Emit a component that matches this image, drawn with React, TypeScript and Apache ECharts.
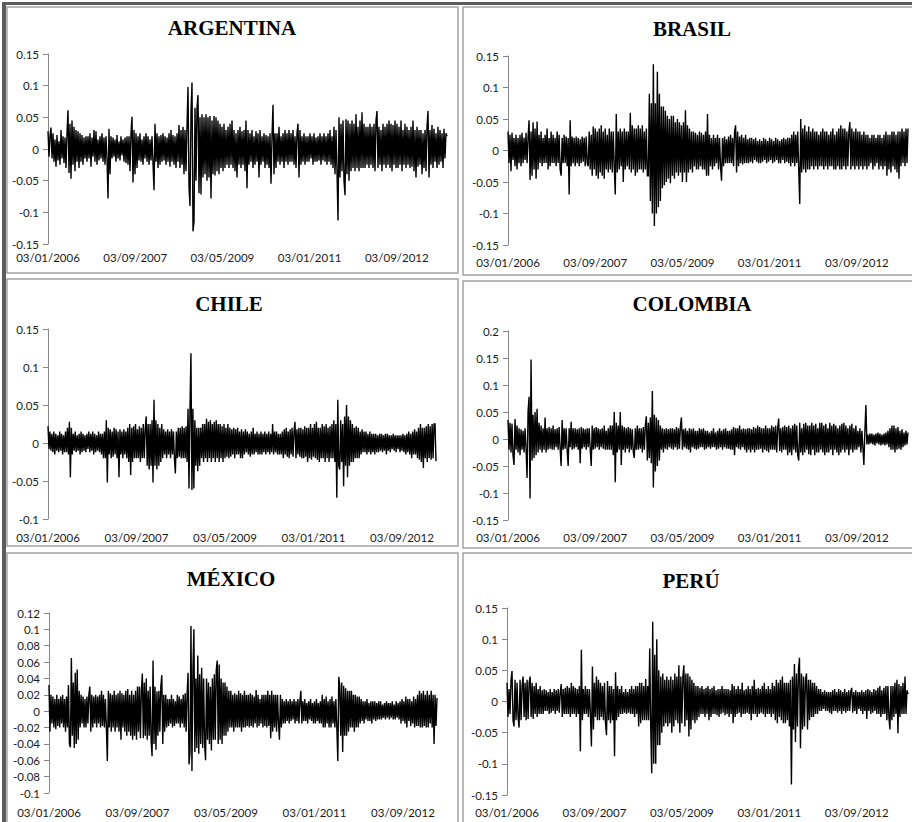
import React, { useEffect, useRef } from "react";
import * as echarts from "echarts";

const tickLabels = ["03/01/2006", "03/09/2007", "03/05/2009", "03/01/2011", "03/09/2012"];
const titles = ["ARGENTINA", "BRASIL", "CHILE", "COLOMBIA", "MÉXICO", "PERÚ"];

const argentina = [
  0.028, -0.012, 0.02, 0.034, -0.015, 0.025, -0.02, 0.015, -0.028, 0.022, -0.018, 0.012, -0.025, 0.03, -0.015, 0.02, -0.022, 0.018, -0.03, 0.025,
  0.061, -0.038, 0.04, -0.047, 0.045, -0.025, 0.035, -0.035, 0.03, -0.02, 0.028, -0.03, 0.025, -0.02, 0.022, -0.025, 0.018, -0.015, 0.02, -0.02,
  0.02, -0.015, 0.025, -0.028, 0.018, -0.012, 0.03, -0.02, 0.028, -0.025, 0.015, -0.018, 0.02, -0.015, 0.025, -0.02, 0.018, -0.025, 0.02, -0.015,
  -0.078, 0.032, -0.04, 0.02, -0.015, 0.018, -0.012, 0.015, -0.02, 0.022, -0.015, 0.012, -0.018, 0.02, -0.01, 0.015, -0.02, 0.018, -0.022, 0.02,
  -0.025, 0.02, -0.035, 0.025, 0.051, -0.053, 0.03, -0.04, 0.025, -0.03, 0.02, -0.018, 0.025, -0.02, 0.015, -0.025, 0.02, -0.015, 0.025, -0.02,
  0.02, -0.025, 0.015, -0.018, 0.02, -0.022, -0.065, 0.04, -0.02, 0.025, -0.03, 0.02, -0.025, 0.022, -0.02, 0.025, -0.018, 0.02, -0.025, 0.018,
  -0.02, 0.025, -0.028, 0.03, -0.02, 0.022, -0.025, 0.02, -0.03, 0.025, -0.02, 0.038, -0.03, 0.03, -0.025, 0.035, -0.04, 0.03, -0.035, 0.035,
  0.098, -0.06, -0.09, 0.06, 0.105, -0.13, -0.115, 0.065, -0.05, 0.065, 0.085, -0.07, 0.05, -0.072, 0.055, -0.045, 0.05, -0.04, 0.055, -0.05,
  0.05, -0.045, 0.052, -0.078, 0.045, -0.04, 0.052, -0.042, 0.05, -0.035, 0.045, -0.04, 0.04, -0.03, 0.035, -0.035, 0.04, -0.03, 0.03, -0.025,
  0.035, -0.03, 0.04, -0.025, 0.045, -0.03, 0.03, -0.035, 0.025, -0.045, 0.03, -0.025, 0.035, -0.03, 0.028, -0.025, 0.03, -0.035, 0.045, -0.062,
  0.03, -0.025, 0.025, -0.02, 0.03, -0.03, 0.02, -0.025, 0.028, -0.02, 0.025, -0.045, 0.03, -0.025, 0.02, -0.02, 0.025, -0.03, 0.022, -0.025,
  0.02, -0.03, 0.025, -0.055, 0.02, 0.07, -0.04, 0.025, -0.03, 0.025, -0.02, 0.035, -0.025, 0.02, -0.02, 0.025, -0.03, 0.03, -0.02, 0.025,
  -0.025, 0.03, -0.02, 0.025, -0.02, 0.03, -0.025, 0.02, -0.03, 0.025, 0.04, -0.045, 0.03, -0.025, 0.02, -0.02, 0.025, -0.025, 0.02, -0.02,
  0.02, -0.02, 0.025, -0.015, 0.02, -0.025, 0.025, -0.02, 0.018, -0.02, 0.02, -0.018, 0.025, -0.025, 0.02, -0.018, 0.025, -0.02, 0.02, -0.025,
  0.025, -0.02, 0.03, -0.025, 0.02, -0.03, 0.035, -0.04, 0.03, -0.035, -0.113, 0.05, -0.045, 0.04, -0.035, 0.045, -0.05, -0.073, 0.047, -0.04,
  0.045, -0.05, 0.04, -0.035, 0.045, -0.03, 0.04, -0.035, 0.055, -0.03, 0.035, -0.035, 0.045, -0.03, 0.058, -0.03, 0.04, -0.03, 0.035, -0.025,
  0.035, -0.03, 0.04, -0.025, 0.035, -0.03, 0.04, -0.035, 0.045, 0.06, -0.03, 0.035, -0.025, 0.03, -0.035, 0.04, -0.025, 0.035, -0.03, 0.04,
  -0.025, 0.045, -0.03, 0.04, -0.035, 0.038, -0.025, 0.045, -0.03, 0.04, -0.03, 0.035, -0.025, 0.045, -0.035, 0.03, -0.025, 0.04, -0.03, 0.035,
  -0.025, 0.03, -0.03, 0.035, -0.028, 0.045, -0.035, 0.03, -0.045, 0.035, -0.028, 0.03, -0.025, 0.03, -0.04, 0.025, -0.03, 0.03, -0.035, 0.035,
  0.06, -0.045, 0.03, -0.025, 0.038, -0.03, 0.032, -0.02, 0.025, -0.03, 0.035, -0.025, 0.03, -0.02, 0.025, -0.03, 0.032, -0.015, 0.025, 0.02,
];

const brasil = [
  0.03, -0.02, 0.025, -0.033, 0.028, -0.015, 0.02, -0.025, 0.025, -0.03, 0.02, -0.02, 0.025, -0.025, 0.028, -0.02, 0.02, -0.015, 0.028, -0.02,
  0.02, 0.048, -0.047, 0.03, -0.04, 0.045, -0.03, 0.035, -0.045, 0.046, -0.03, 0.025, -0.02, 0.03, -0.025, 0.02, -0.02, 0.025, -0.02, 0.035,
  -0.03, 0.02, -0.025, 0.03, -0.02, 0.025, -0.02, 0.02, -0.025, 0.03, -0.02, 0.025, -0.03, -0.04, 0.02, -0.02, 0.025, -0.02, 0.022, -0.025,
  0.02, -0.07, 0.048, -0.025, 0.022, -0.02, 0.02, -0.025, 0.022, -0.02, 0.02, -0.025, 0.018, -0.02, 0.022, -0.018, 0.02, -0.025, 0.022, -0.02,
  -0.025, 0.03, -0.03, 0.025, -0.04, 0.038, -0.03, 0.035, -0.04, 0.03, -0.045, 0.035, -0.035, 0.04, -0.04, 0.03, -0.045, 0.035, -0.03, 0.025,
  -0.035, 0.035, -0.03, 0.03, -0.035, 0.03, -0.025, -0.07, 0.058, -0.035, 0.03, -0.03, 0.035, -0.025, 0.03, -0.05, 0.035, -0.03, 0.03, -0.025,
  0.03, -0.03, 0.06, -0.035, 0.04, -0.03, 0.035, -0.04, 0.035, -0.035, 0.04, -0.03, 0.035, -0.03, 0.04, -0.035, 0.03, -0.03, 0.035, -0.04,
  -0.04, 0.09, -0.08, 0.075, -0.1, 0.137, -0.12, 0.075, -0.1, 0.125, -0.09, 0.09, -0.08, 0.07, -0.06, 0.07, -0.055, 0.063, -0.05, 0.055,
  -0.045, 0.05, -0.052, 0.055, -0.04, 0.055, -0.045, 0.045, -0.035, 0.05, -0.04, 0.045, -0.035, 0.04, -0.05, 0.045, -0.035, 0.064, -0.05, 0.04,
  -0.035, 0.035, -0.03, 0.03, -0.035, 0.03, -0.025, 0.028, -0.03, 0.025, -0.03, 0.03, -0.025, 0.028, -0.03, 0.025, -0.03, 0.03, -0.04, 0.058,
  -0.04, 0.025, -0.025, 0.02, -0.03, 0.025, -0.025, 0.02, -0.02, 0.025, -0.03, 0.02, -0.025, -0.048, 0.02, -0.025, 0.022, -0.02, 0.018, -0.02,
  0.022, -0.02, 0.025, -0.02, 0.02, -0.025, 0.03, 0.04, -0.035, 0.03, -0.025, 0.022, -0.02, 0.025, -0.022, 0.02, -0.02, 0.025, -0.02, 0.018,
  -0.02, 0.02, -0.018, 0.02, -0.02, 0.018, -0.015, 0.02, -0.018, 0.015, -0.02, 0.018, -0.02, 0.015, -0.018, 0.02, -0.015, 0.018, -0.02, 0.015,
  -0.018, 0.02, -0.015, 0.018, -0.02, 0.015, -0.018, 0.02, -0.015, 0.018, -0.02, 0.015, -0.02, 0.018, -0.015, 0.02, -0.02, 0.018, -0.018, 0.02,
  -0.02, 0.02, -0.025, 0.025, -0.02, 0.03, -0.025, 0.025, -0.02, 0.03, -0.03, -0.085, 0.05, -0.035, 0.035, -0.03, 0.04, -0.035, 0.03, -0.03,
  0.038, -0.03, 0.03, -0.025, 0.035, -0.03, 0.03, -0.025, 0.03, -0.03, 0.025, -0.025, 0.03, -0.025, 0.035, -0.03, 0.03, -0.025, 0.03, -0.03,
  0.025, -0.025, 0.03, -0.025, 0.035, -0.03, 0.025, -0.03, 0.03, -0.025, 0.035, -0.03, 0.04, -0.03, 0.035, -0.025, 0.035, -0.03, 0.03, -0.025,
  0.03, 0.045, -0.03, 0.035, -0.025, 0.03, -0.03, 0.035, -0.025, 0.03, -0.03, 0.03, -0.025, 0.025, -0.03, 0.03, -0.025, 0.025, -0.03, 0.025,
  -0.025, 0.02, -0.02, 0.025, -0.03, 0.025, -0.025, 0.02, -0.02, 0.025, -0.03, 0.025, -0.025, 0.02, -0.03, 0.025, -0.025, 0.03, -0.04, 0.025,
  -0.03, 0.025, -0.035, 0.03, -0.025, 0.03, -0.03, 0.025, -0.035, 0.03, -0.045, 0.03, -0.025, 0.035, -0.02, 0.03, -0.025, 0.035, -0.02, 0.035,
];

const chile = [
  0.022, -0.008, 0.015, -0.01, 0.012, -0.012, 0.015, -0.015, 0.012, -0.01, 0.01, -0.012, 0.015, -0.01, 0.012, -0.015, 0.01, -0.012, 0.015, -0.012,
  0.02, -0.015, 0.028, -0.045, 0.02, -0.015, 0.012, -0.01, 0.015, -0.012, 0.01, -0.01, 0.012, -0.015, 0.015, -0.012, 0.012, -0.01, 0.01, -0.012,
  0.012, -0.008, 0.015, -0.012, 0.012, -0.01, 0.015, -0.015, 0.012, -0.012, 0.01, -0.01, 0.015, -0.012, 0.012, -0.015, 0.012, -0.02, 0.015, -0.02,
  0.03, -0.052, 0.02, -0.015, 0.018, -0.02, 0.015, -0.018, 0.02, -0.015, 0.018, -0.02, 0.015, -0.045, 0.018, -0.015, 0.015, -0.02, 0.018, -0.015,
  0.015, -0.02, 0.02, -0.025, 0.025, -0.042, 0.02, -0.025, 0.022, -0.02, 0.025, -0.02, 0.018, -0.02, 0.022, -0.025, 0.02, -0.02, 0.025, -0.02,
  0.018, 0.035, -0.03, 0.025, -0.035, 0.025, -0.03, 0.03, -0.052, 0.057, -0.03, 0.03, -0.035, 0.025, -0.03, 0.02, -0.025, 0.025, -0.02, 0.018,
  -0.015, 0.015, -0.02, 0.018, -0.015, 0.015, -0.02, 0.018, -0.015, 0.015, -0.02, -0.04, 0.015, -0.02, 0.02, -0.018, 0.02, -0.02, 0.022, -0.02,
  0.02, -0.02, 0.022, -0.025, 0.045, -0.06, 0.045, 0.118, -0.062, 0.045, -0.06, 0.03, -0.03, 0.02, -0.037, 0.02, -0.03, 0.02, -0.02, 0.025,
  -0.025, 0.025, -0.02, 0.032, -0.025, 0.028, -0.02, 0.03, -0.025, 0.025, -0.02, 0.028, -0.025, 0.03, -0.02, 0.025, -0.025, 0.025, -0.02, 0.022,
  -0.025, 0.025, -0.02, 0.02, -0.018, 0.025, -0.02, 0.02, -0.018, 0.018, -0.015, 0.02, -0.02, 0.018, -0.015, 0.02, -0.015, 0.015, -0.02, 0.018,
  -0.02, 0.015, -0.015, 0.018, -0.012, 0.015, -0.015, 0.012, -0.018, 0.015, -0.015, 0.02, -0.015, 0.012, -0.012, 0.015, -0.015, 0.012, -0.015, 0.015,
  -0.015, 0.012, -0.012, 0.015, -0.015, 0.012, -0.012, 0.015, -0.015, 0.012, -0.012, 0.025, -0.015, 0.015, -0.012, 0.015, -0.015, 0.012, -0.015, 0.012,
  -0.015, 0.015, -0.02, 0.018, -0.015, 0.02, -0.018, 0.015, -0.02, 0.018, -0.015, 0.02, -0.018, 0.015, 0.028, -0.02, 0.018, -0.015, 0.02, -0.018,
  0.02, -0.02, 0.018, -0.02, 0.022, -0.018, 0.02, -0.025, 0.02, -0.02, 0.025, -0.022, 0.02, -0.018, 0.025, -0.02, 0.028, -0.022, 0.02, -0.025,
  0.02, -0.02, 0.025, -0.02, 0.022, -0.025, 0.025, -0.02, 0.02, -0.025, 0.022, -0.02, 0.025, -0.02, 0.03, -0.025, 0.025, -0.072, 0.057, -0.03,
  -0.035, 0.03, -0.025, 0.025, -0.057, 0.035, -0.03, 0.05, -0.045, 0.035, -0.03, 0.03, -0.025, 0.025, -0.025, 0.02, -0.02, 0.022, -0.02, 0.02,
  -0.02, 0.015, -0.015, 0.018, -0.012, 0.015, -0.012, 0.015, -0.015, 0.012, -0.012, 0.015, -0.015, 0.012, -0.012, 0.012, -0.015, 0.012, -0.012, 0.01,
  -0.012, 0.012, -0.01, 0.012, -0.012, 0.01, -0.01, 0.012, -0.015, 0.012, -0.01, 0.01, -0.012, 0.01, -0.008, 0.012, -0.01, 0.01, -0.012, 0.01,
  -0.008, 0.01, -0.012, 0.01, -0.01, 0.012, -0.012, 0.01, -0.015, 0.012, -0.012, 0.015, -0.015, 0.012, -0.02, 0.015, -0.015, 0.018, -0.015, 0.015,
  -0.02, 0.02, -0.022, 0.025, -0.025, 0.02, -0.033, 0.02, -0.02, 0.022, -0.025, 0.025, -0.02, 0.022, -0.022, 0.025, -0.02, 0.025, 0.025, -0.024,
];

const colombia = [
  0.035, -0.02, 0.03, -0.025, 0.028, -0.03, -0.048, 0.037, -0.02, 0.025, -0.025, 0.02, -0.03, 0.018, -0.02, 0.015, -0.025, 0.02, -0.018, -0.072,
  0.05, 0.078, -0.11, 0.147, -0.04, 0.045, -0.035, 0.05, -0.03, 0.056, -0.025, 0.03, -0.02, 0.025, -0.025, 0.02, -0.02, 0.04, -0.025, 0.02,
  -0.02, 0.022, -0.018, 0.02, -0.02, 0.025, -0.02, 0.018, -0.015, 0.02, -0.02, 0.022, -0.018, -0.05, 0.035, -0.02, 0.02, -0.018, 0.02, -0.02,
  -0.05, 0.02, -0.015, 0.032, -0.02, 0.02, -0.018, 0.02, -0.015, 0.018, -0.02, 0.02, -0.045, 0.022, -0.018, 0.02, -0.015, 0.018, -0.02, 0.02,
  -0.015, 0.02, -0.018, -0.05, 0.025, -0.02, 0.02, -0.018, 0.022, -0.015, 0.02, -0.02, 0.018, -0.015, 0.02, -0.018, 0.025, -0.02, 0.015, -0.02,
  0.02, -0.02, 0.025, -0.02, 0.025, -0.03, 0.05, -0.08, 0.03, -0.025, 0.025, -0.02, 0.05, -0.048, 0.025, -0.02, 0.022, -0.025, 0.02, -0.018,
  0.022, -0.025, 0.02, -0.02, 0.018, -0.025, -0.035, 0.02, -0.02, 0.025, -0.02, 0.02, -0.018, 0.02, -0.025, 0.022, -0.02, 0.025, 0.042, -0.04,
  0.03, -0.035, 0.04, -0.045, 0.089, -0.09, 0.045, -0.06, 0.04, -0.05, 0.035, -0.04, 0.025, -0.02, 0.02, -0.025, 0.018, -0.018, 0.02, -0.02,
  0.018, -0.015, 0.02, -0.018, 0.02, -0.02, 0.018, -0.015, 0.022, -0.02, 0.02, -0.018, 0.025, 0.04, -0.02, 0.018, -0.015, 0.02, -0.018, 0.015,
  -0.02, 0.02, -0.025, 0.018, -0.015, 0.02, -0.018, 0.015, -0.02, 0.015, -0.018, 0.02, -0.015, 0.018, -0.015, 0.02, -0.02, 0.015, -0.018, 0.015,
  -0.015, 0.012, -0.018, 0.015, -0.015, 0.02, -0.015, 0.012, -0.02, 0.015, -0.018, 0.02, -0.015, 0.015, -0.02, 0.018, -0.015, 0.02, -0.018, 0.015,
  -0.018, 0.015, -0.02, 0.018, -0.02, 0.022, -0.03, 0.02, -0.015, 0.02, -0.018, 0.025, -0.02, 0.018, -0.015, 0.02, -0.02, 0.018, -0.025, 0.02,
  -0.02, 0.02, -0.025, 0.018, -0.02, 0.022, -0.025, 0.02, -0.02, 0.025, -0.02, 0.022, -0.018, 0.02, -0.025, 0.02, -0.02, 0.025, -0.022, 0.02,
  -0.025, 0.02, -0.02, 0.025, -0.02, 0.022, -0.02, 0.025, -0.025, 0.02, 0.038, -0.022, 0.02, -0.025, 0.022, -0.02, 0.025, -0.02, 0.022, -0.03,
  0.025, -0.025, 0.02, -0.03, 0.025, -0.02, 0.028, -0.025, 0.025, -0.03, -0.04, 0.03, -0.025, 0.02, -0.03, 0.028, -0.025, 0.03, -0.02, 0.025,
  -0.028, 0.025, -0.03, 0.03, -0.02, 0.025, -0.03, 0.028, -0.025, 0.02, -0.025, 0.03, -0.02, 0.03, -0.025, 0.025, -0.03, 0.028, -0.025, 0.02,
  -0.025, 0.03, -0.02, 0.025, -0.03, 0.028, -0.02, 0.025, -0.025, 0.02, -0.03, 0.025, -0.025, 0.028, -0.02, 0.03, -0.025, 0.025, -0.02, 0.02,
  -0.03, 0.025, -0.02, 0.028, -0.025, 0.02, -0.02, 0.025, -0.02, 0.015, -0.015, 0.02, -0.025, 0.015, -0.015, -0.048, 0.015, 0.063, -0.01, 0.008,
  -0.01, 0.01, -0.008, 0.01, -0.01, 0.008, -0.012, 0.01, -0.008, 0.012, -0.01, 0.01, -0.012, 0.008, -0.01, 0.01, -0.012, 0.012, -0.01, 0.015,
  -0.015, 0.02, -0.02, 0.025, -0.02, 0.025, -0.025, 0.02, -0.02, 0.022, -0.018, 0.015, -0.02, 0.018, -0.015, 0.012, -0.012, 0.015, -0.01, 0.012,
];

const mexico = [
  0.032, -0.025, 0.02, -0.015, 0.018, -0.02, 0.015, -0.022, 0.02, -0.018, 0.015, -0.02, 0.018, -0.015, 0.02, -0.02, 0.015, -0.025, 0.018, -0.02,
  0.032, -0.04, -0.044, 0.065, -0.03, 0.035, -0.045, 0.047, -0.04, 0.051, -0.035, 0.025, -0.02, 0.02, -0.015, 0.018, -0.02, 0.015, -0.02, 0.018,
  -0.015, 0.02, 0.03, -0.025, 0.02, -0.02, 0.018, -0.015, 0.02, -0.02, 0.018, -0.015, 0.02, -0.02, 0.025, -0.018, 0.02, -0.02, 0.015, -0.02,
  -0.061, 0.025, -0.02, 0.022, -0.025, 0.02, -0.02, 0.025, -0.025, 0.02, -0.02, 0.022, -0.025, 0.025, -0.035, 0.022, -0.02, 0.02, -0.025, 0.025,
  -0.03, 0.027, -0.025, 0.02, -0.03, 0.025, -0.035, 0.02, -0.03, 0.025, -0.035, 0.03, -0.025, 0.03, -0.033, 0.025, 0.046, -0.033, 0.035, -0.03,
  0.04, -0.035, 0.025, -0.03, 0.03, -0.035, -0.055, 0.062, -0.04, 0.03, -0.047, 0.024, -0.03, 0.025, -0.025, 0.03, 0.044, -0.04, 0.02, -0.025,
  0.02, -0.02, 0.015, -0.018, 0.015, -0.015, 0.02, -0.02, 0.015, -0.018, 0.012, -0.015, 0.02, -0.015, 0.018, -0.02, 0.015, -0.015, 0.02, -0.02,
  0.022, -0.025, 0.02, 0.047, -0.065, -0.05, 0.104, -0.073, 0.05, 0.1, -0.05, 0.04, -0.045, 0.068, -0.052, 0.045, -0.04, 0.053, -0.045, 0.04,
  -0.04, -0.06, 0.04, -0.035, 0.035, -0.04, 0.03, -0.048, 0.04, -0.035, 0.045, -0.035, 0.05, 0.062, -0.04, 0.057, -0.035, 0.04, -0.04, 0.035,
  -0.03, 0.035, -0.03, 0.03, -0.025, 0.025, -0.02, 0.025, -0.02, 0.02, -0.025, 0.022, -0.02, 0.02, -0.02, 0.025, -0.02, 0.022, -0.025, 0.02,
  -0.02, 0.025, -0.02, 0.02, -0.018, 0.02, -0.02, 0.022, -0.018, 0.02, -0.02, 0.018, -0.015, 0.026, -0.02, 0.02, -0.018, 0.015, -0.015, 0.02,
  -0.02, 0.02, -0.018, 0.02, -0.02, 0.025, -0.018, 0.02, -0.033, 0.025, -0.025, 0.02, -0.02, 0.02, -0.025, 0.02, -0.015, -0.035, 0.02, -0.02,
  0.015, -0.015, 0.012, -0.015, 0.015, -0.012, 0.012, -0.015, 0.015, -0.012, 0.012, -0.01, 0.015, -0.015, 0.012, -0.012, 0.015, -0.015, 0.012, 0.025,
  -0.015, 0.012, -0.012, 0.015, -0.012, 0.01, -0.015, 0.012, -0.01, 0.015, -0.012, 0.01, -0.015, 0.012, -0.015, 0.015, -0.012, 0.01, -0.015, 0.012,
  -0.015, 0.02, -0.02, 0.015, -0.02, 0.018, -0.015, 0.012, -0.02, 0.015, -0.02, 0.018, -0.015, 0.012, -0.02, 0.015, -0.02, -0.061, 0.042, 0.03,
  -0.03, 0.035, -0.05, 0.031, -0.03, 0.028, -0.03, 0.025, -0.025, 0.025, -0.02, 0.025, -0.02, 0.02, -0.025, 0.02, -0.02, 0.018, -0.02, 0.018,
  -0.015, 0.015, -0.012, 0.012, -0.015, 0.012, -0.01, 0.015, -0.012, 0.01, -0.012, 0.012, -0.015, 0.012, -0.01, 0.012, -0.012, 0.01, -0.01, 0.012,
  -0.01, 0.012, -0.01, 0.008, -0.008, 0.01, -0.01, 0.012, -0.008, 0.01, -0.01, 0.01, -0.008, 0.012, -0.01, 0.008, -0.01, 0.012, -0.008, 0.01,
  -0.01, 0.012, -0.015, 0.015, -0.012, 0.012, -0.015, 0.018, -0.02, 0.015, -0.012, 0.015, -0.018, 0.012, -0.015, 0.018, -0.02, 0.015, -0.018, 0.02,
  -0.018, 0.025, -0.02, 0.022, -0.02, 0.025, -0.018, 0.02, -0.02, 0.025, -0.02, 0.02, -0.015, 0.025, -0.02, 0.02, -0.04, 0.02, -0.018, 0.016,
];

const peru = [
  0.03, -0.025, 0.02, -0.02, 0.035, 0.049, -0.03, -0.04, 0.035, -0.03, 0.03, -0.025, -0.042, 0.035, -0.03, 0.025, 0.04, -0.025, 0.03, -0.03,
  0.035, -0.028, 0.03, 0.04, -0.025, 0.03, -0.028, 0.025, -0.02, 0.03, -0.025, 0.02, -0.02, 0.025, -0.02, 0.018, -0.02, 0.02, -0.015, 0.018,
  -0.015, 0.015, -0.02, 0.02, -0.018, 0.015, -0.015, 0.02, -0.02, 0.018, -0.015, 0.02, -0.018, 0.015, 0.028, -0.025, 0.02, -0.02, 0.022, -0.02,
  0.025, -0.02, 0.022, -0.025, 0.03, -0.02, 0.025, -0.02, 0.022, -0.025, 0.02, -0.02, 0.025, -0.08, 0.083, -0.03, 0.02, -0.02, 0.025, -0.02,
  0.02, -0.025, 0.02, -0.02, -0.072, 0.056, -0.045, 0.03, -0.025, 0.04, -0.03, 0.035, -0.03, 0.03, -0.025, 0.025, -0.03, 0.03, -0.035, -0.054,
  0.033, -0.03, 0.025, -0.035, 0.025, -0.03, 0.02, -0.088, 0.047, -0.03, 0.025, -0.025, 0.02, -0.02, 0.025, -0.02, 0.015, -0.018, 0.02, -0.02,
  0.015, -0.018, 0.02, -0.02, 0.025, -0.02, 0.02, -0.025, 0.025, -0.02, 0.025, -0.04, 0.03, -0.035, 0.03, -0.03, 0.025, -0.03, 0.036, -0.03,
  0.025, -0.03, 0.085, -0.04, -0.115, 0.128, -0.1, 0.075, -0.1, 0.1, -0.07, 0.05, -0.07, 0.04, -0.05, 0.045, -0.04, 0.035, -0.035, 0.04,
  -0.04, 0.035, -0.035, 0.04, -0.05, 0.035, -0.04, 0.045, -0.03, 0.04, -0.035, 0.058, -0.05, 0.04, -0.035, 0.04, 0.058, -0.04, 0.045, -0.03,
  0.045, -0.056, 0.04, -0.045, 0.035, -0.03, 0.03, -0.035, 0.025, -0.03, 0.025, -0.025, 0.022, -0.02, 0.025, -0.02, 0.02, -0.025, 0.022, -0.02,
  0.025, -0.03, 0.02, -0.025, 0.022, -0.02, 0.025, -0.02, 0.018, -0.022, 0.02, -0.025, 0.02, -0.02, 0.025, -0.018, 0.02, -0.022, 0.02, -0.02,
  0.02, -0.025, 0.018, -0.02, 0.028, -0.035, 0.025, -0.025, 0.02, -0.02, 0.025, -0.018, 0.02, -0.025, 0.03, -0.02, 0.018, -0.02, 0.02, -0.018,
  0.025, -0.02, 0.02, -0.03, 0.025, -0.02, 0.035, -0.02, 0.02, -0.025, 0.022, -0.02, 0.02, -0.018, 0.025, -0.02, 0.03, -0.025, 0.02, -0.02,
  0.025, -0.02, 0.02, -0.025, 0.03, -0.02, 0.025, -0.03, 0.035, -0.035, 0.03, -0.025, 0.035, -0.03, 0.04, -0.035, 0.03, -0.035, 0.03, -0.03,
  0.03, -0.04, 0.035, -0.133, 0.04, -0.045, 0.06, -0.065, 0.045, -0.04, 0.05, 0.07, -0.075, 0.045, -0.045, 0.04, -0.04, 0.035, 0.045, -0.045,
  0.035, -0.03, 0.035, -0.025, 0.03, -0.025, 0.03, -0.02, 0.025, -0.02, 0.02, -0.015, 0.02, -0.015, 0.015, -0.012, 0.018, -0.015, 0.015, -0.015,
  0.015, -0.018, 0.015, -0.02, 0.018, -0.015, 0.02, -0.015, 0.015, -0.018, 0.02, -0.015, 0.018, -0.02, 0.015, -0.015, 0.02, -0.018, 0.015, -0.015,
  0.018, -0.015, 0.015, 0.022, -0.018, 0.015, -0.015, 0.018, -0.02, 0.015, -0.012, 0.015, -0.015, 0.018, -0.02, 0.015, -0.015, 0.018, -0.028, 0.02,
  -0.015, 0.018, -0.02, 0.015, -0.018, 0.02, -0.015, 0.018, -0.02, 0.022, -0.02, 0.025, -0.025, 0.018, -0.02, 0.022, -0.02, 0.025, -0.03, 0.025,
  -0.025, -0.045, 0.025, -0.03, 0.025, -0.025, 0.03, -0.02, 0.035, -0.051, 0.028, -0.025, 0.025, -0.02, 0.03, -0.02, 0.04, -0.02, 0.018, 0.012,
];

const seriesData = [argentina, brasil, chile, colombia, mexico, peru];

// layout of each panel: frame box, plot grid, title centre, axis settings
const panels = [
  { box: [7, 7, 451, 266], grid: [48, 54, 399, 190], title: [232, 28], y: [-0.15, 0.15, 0.05], lm: 7, step: 87.2 },
  { box: [463, 7, 460, 268], grid: [508, 56, 400, 189], title: [692, 29], y: [-0.15, 0.15, 0.05], lm: 11, step: 87 },
  { box: [7, 279, 451, 267], grid: [48, 329, 388, 190], title: [229, 304], y: [-0.1, 0.15, 0.05], lm: 12, step: 91 },
  { box: [463, 281, 460, 267], grid: [508, 331, 400, 189], title: [692, 304], y: [-0.15, 0.2, 0.05], lm: 11, step: 87 },
  { box: [7, 553, 451, 280], grid: [49, 613, 388, 180], title: [231, 579], y: [-0.1, 0.12, 0.02], lm: 13, step: 91 },
  { box: [463, 553, 460, 280], grid: [507, 608, 401, 187], title: [691, 581], y: [-0.15, 0.15, 0.05], lm: 11, step: 87 },
];

const LABEL_FONT = "Lato, 'Open Sans', sans-serif";

export default function App() {
  const ref = useRef<HTMLDivElement>(null);

  useEffect(() => {
    if (!ref.current) return;
    const chart = echarts.init(ref.current, null, { renderer: "svg" });

    const grids = panels.map((p) => ({
      left: p.grid[0],
      top: p.grid[1],
      width: p.grid[2],
      height: p.grid[3],
      containLabel: false,
    }));

    const xAxes = panels.map((p, i) => ({
      type: "value",
      gridIndex: i,
      min: 0,
      max: seriesData[i].length - 1,
      interval: p.step,
      axisLine: { show: false },
      axisTick: { show: false },
      splitLine: { show: false },
      showMaxLabel: false,
      axisLabel: {
        margin: p.lm,
        fontFamily: LABEL_FONT,
        fontSize: 11.5,
        color: "#1a1a1a",
        formatter: (v: number) => {
          const k = Math.round(v / p.step);
          if (Math.abs(k * p.step - v) > 0.01) return "";
          return tickLabels[k] ?? "";
        },
      },
    }));

    const yAxes = panels.map((p, i) => ({
      type: "value",
      gridIndex: i,
      min: p.y[0],
      max: p.y[1],
      interval: p.y[2],
      axisLine: { show: true, lineStyle: { color: "#868686", width: 1 } },
      axisTick: { show: true, length: 5, lineStyle: { color: "#868686" } },
      splitLine: { show: false },
      axisLabel: {
        margin: 9,
        fontFamily: LABEL_FONT,
        fontSize: 11.5,
        color: "#1a1a1a",
      },
    }));

    const series = seriesData.map((d, i) => ({
      type: "line",
      name: titles[i],
      xAxisIndex: i,
      yAxisIndex: i,
      data: d.map((v, k) => [k, v]),
      symbol: "none",
      sampling: undefined,
      lineStyle: { color: "#000", width: 1.4, join: "miter", miterLimit: 1.5 },
      silent: true,
    }));

    const graphic: any[] = [
      { type: "rect", shape: { x: 2, y: 2, width: 910, height: 3 }, style: { fill: "#5c5c5c" }, z: 10 },
      { type: "rect", shape: { x: 2, y: 2, width: 4, height: 820 }, style: { fill: "#5c5c5c" }, z: 10 },
    ];
    panels.forEach((p, i) => {
      graphic.push({
        type: "rect",
        shape: { x: p.box[0], y: p.box[1], width: p.box[2], height: p.box[3] },
        style: { fill: "none", stroke: "#a3a3a3", lineWidth: 1.5 },
        z: 5,
      });
      graphic.push({
        type: "text",
        x: p.title[0],
        y: p.title[1],
        style: {
          text: titles[i],
          fill: "#000",
          fontFamily: "'Liberation Serif', 'Times New Roman', serif",
          fontWeight: "bold",
          fontSize: 21,
          align: "center",
          verticalAlign: "middle",
        },
        z: 10,
      });
    });

    chart.setOption({
      animation: false,
      backgroundColor: "#ffffff",
      grid: grids,
      xAxis: xAxes,
      yAxis: yAxes,
      series,
      graphic,
    });

    return () => chart.dispose();
  }, []);

  return (
    <div
      ref={ref}
      style={{ position: "fixed", left: 0, top: 0, width: 912, height: 822, background: "#fff" }}
    />
  );
}
